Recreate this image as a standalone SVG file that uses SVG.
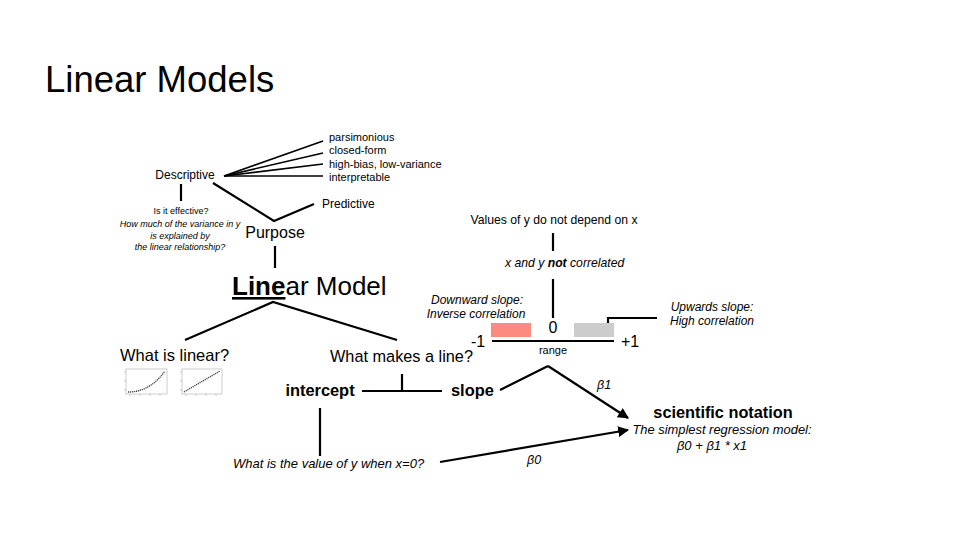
<svg xmlns="http://www.w3.org/2000/svg" width="960" height="540" viewBox="0 0 960 540">
  <style>
    text { font-family: "Liberation Sans", Arial, Helvetica, sans-serif; fill: #000; }
    .it { font-style: italic; }
    .b { font-weight: bold; }
    .mid { text-anchor: middle; }
    .ln { stroke: #000; stroke-width: 2.2; fill: none; }
    .thin { stroke: #000; stroke-width: 1.6; fill: none; }
    .frame { fill: #fff; stroke: #aaa; stroke-width: 0.6; }
    .tick { stroke: #999; stroke-width: 0.5; }
    .pts { stroke: #444; stroke-width: 1.4; fill: none; stroke-dasharray: 1.2 0.8; }
  </style>
  <defs>
    <marker id="arrow" viewBox="0 0 10 10" refX="9" refY="5" markerWidth="5" markerHeight="5" orient="auto" markerUnits="strokeWidth">
      <path d="M0,0 L10,5 L0,10 z" fill="#000"/>
    </marker>
  </defs>

  <rect width="960" height="540" fill="#fff"/>

  <text x="45" y="92" font-size="36.5">Linear Models</text>

  <!-- connectors -->
  <g id="connectors">
    <!-- Descriptive fan -->
    <line class="thin" x1="224" y1="176" x2="323" y2="141"/>
    <line class="thin" x1="224" y1="176" x2="323" y2="153"/>
    <line class="thin" x1="224" y1="176" x2="323" y2="164"/>
    <line class="thin" x1="224" y1="176" x2="323" y2="176"/>
    <!-- Purpose branches -->
    <polyline class="ln" points="213,183 274,221 314,204"/>
    <line class="ln" x1="181" y1="184" x2="181" y2="201"/>
    <line class="ln" x1="275" y1="246" x2="275" y2="268"/>
    <!-- Linear Model branches -->
    <polyline class="ln" points="185,340 273,302 397,340"/>
    <!-- intercept / slope T -->
    <line class="ln" x1="362" y1="391" x2="442" y2="391"/>
    <line class="ln" x1="402" y1="374" x2="402" y2="391"/>
    <line class="ln" x1="320" y1="408" x2="320" y2="456"/>
    <!-- slope to scientific notation -->
    <polyline class="ln" points="500,390 548,366"/>
    <line class="ln" x1="548" y1="366" x2="628" y2="418" marker-end="url(#arrow)"/>
    <line class="ln" x1="440" y1="462" x2="628" y2="430" marker-end="url(#arrow)"/>
    <!-- correlation stack -->
    <line class="ln" x1="553" y1="233" x2="553" y2="251"/>
    <line class="ln" x1="553" y1="279" x2="553" y2="318"/>
    <line class="ln" x1="492" y1="341" x2="614" y2="341"/>
    <polyline class="ln" points="608,332 608,318 657,318"/>
  </g>

  <g id="descriptive">
    <text x="185" y="179" font-size="12" class="mid">Descriptive</text>
  </g>
  <g id="qualities" font-size="11">
    <text x="329" y="141">parsimonious</text>
    <text x="329" y="154">closed-form</text>
    <text x="329" y="168">high-bias, low-variance</text>
    <text x="329" y="181">interpretable</text>
  </g>
  <g id="predictive">
    <text x="322" y="208" font-size="12">Predictive</text>
  </g>
  <g id="effective" font-size="9">
    <text x="181" y="214" class="mid">Is it effective?</text>
    <text x="180" y="227" class="mid it">How much of the variance in y</text>
    <text x="180" y="239" class="mid it">is explained by</text>
    <text x="180" y="250" class="mid it">the linear relationship?</text>
  </g>
  <g id="purpose">
    <text x="275" y="238" font-size="16" class="mid">Purpose</text>
  </g>
  <g id="linear-model">
    <text x="232" y="295" font-size="26"><tspan class="b" text-decoration="underline">Line</tspan>ar Model</text>
  </g>

  <g id="what-is-linear">
    <text x="120" y="361" font-size="16.5">What is linear?</text>
    <!-- small scatter plots -->
    <g id="plot-curve">
      <rect class="frame" x="126" y="369" width="41" height="25"/>
      <line class="tick" x1="124" y1="372" x2="126" y2="372"/>
      <line class="tick" x1="124" y1="381" x2="126" y2="381"/>
      <line class="tick" x1="124" y1="390" x2="126" y2="390"/>
      <line class="tick" x1="130" y1="394" x2="130" y2="396"/>
      <line class="tick" x1="140" y1="394" x2="140" y2="396"/>
      <line class="tick" x1="150" y1="394" x2="150" y2="396"/>
      <line class="tick" x1="160" y1="394" x2="160" y2="396"/>
      <path class="pts" d="M128,392 Q150,392 165,371"/>
    </g>
    <g id="plot-line">
      <rect class="frame" x="182" y="369" width="40" height="25"/>
      <line class="tick" x1="180" y1="372" x2="182" y2="372"/>
      <line class="tick" x1="180" y1="381" x2="182" y2="381"/>
      <line class="tick" x1="180" y1="390" x2="182" y2="390"/>
      <line class="tick" x1="186" y1="394" x2="186" y2="396"/>
      <line class="tick" x1="196" y1="394" x2="196" y2="396"/>
      <line class="tick" x1="206" y1="394" x2="206" y2="396"/>
      <line class="tick" x1="216" y1="394" x2="216" y2="396"/>
      <path class="pts" d="M184,392 L220,371"/>
    </g>
  </g>

  <g id="what-makes-a-line">
    <text x="330" y="362" font-size="16.3">What makes a line?</text>
  </g>
  <g id="intercept">
    <text x="320" y="396" font-size="16.4" class="b mid">intercept</text>
  </g>
  <g id="slope">
    <text x="451" y="396" font-size="16.4" class="b">slope</text>
  </g>
  <g id="intercept-question">
    <text x="233" y="468" font-size="13" class="it">What is the value of y when x=0?</text>
  </g>

  <g id="independence">
    <text x="554" y="224" font-size="12.2" class="mid">Values of y do not depend on x</text>
    <text x="505" y="267" font-size="12.2" class="it">x and y <tspan class="b">not</tspan> correlated</text>
  </g>
  <g id="range">
    <rect x="491" y="323" width="40" height="14" fill="#fb8a80"/>
    <rect x="574" y="323" width="40" height="14" fill="#cccccc"/>
    <text x="553" y="333" font-size="16" class="mid">0</text>
    <text x="471" y="347" font-size="16">-1</text>
    <text x="621" y="347" font-size="16">+1</text>
    <text x="553" y="354" font-size="11" class="mid">range</text>
  </g>
  <g id="downward">
    <text x="477" y="304" font-size="12" class="mid it">Downward slope:</text>
    <text x="476" y="318" font-size="12" class="mid it">Inverse correlation</text>
  </g>
  <g id="upward">
    <text x="712" y="311" font-size="12" class="mid it">Upwards slope:</text>
    <text x="712" y="325" font-size="12" class="mid it">High correlation</text>
  </g>

  <g id="beta-labels" font-size="12.5">
    <text x="597" y="389" class="it">β1</text>
    <text x="527" y="464" class="it">β0</text>
  </g>

  <g id="scientific-notation">
    <text x="723" y="418" font-size="16.3" class="b mid">scientific notation</text>
    <text x="722" y="434" font-size="12.9" class="mid it">The simplest regression model:</text>
    <text x="712" y="450" font-size="13" class="mid it">β0 + β1 * x1</text>
  </g>
</svg>
